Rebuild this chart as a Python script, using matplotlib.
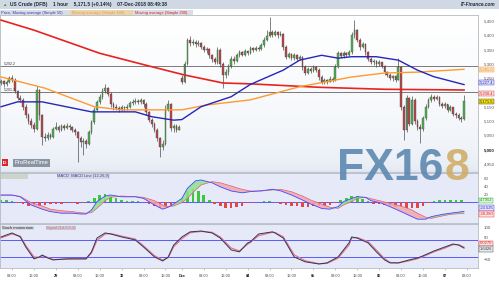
import numpy as np
import matplotlib
matplotlib.use("Agg")
import matplotlib.pyplot as plt
from matplotlib.colors import LinearSegmentedColormap
from matplotlib.transforms import blended_transform_factory

plt.rcParams['font.family'] = ['Liberation Sans', 'DejaVu Sans']

# ---- hourly candles (US Crude, DFB) ----
first_open = 5232
gap_opens = {66: 5250}
closes = [5240, 5228, 5238, 5250, 5245, 5205, 5180, 5175, 5150, 5120,
          5100, 5085, 5072, 5208, 5120, 5045, 5040, 5052, 5045, 5072,
          5078, 5070, 5082, 5076, 5084, 5078, 5068, 5060, 5040, 5025,
          5030, 5020, 5060, 5095, 5140, 5165, 5185, 5205, 5215, 5195,
          5160, 5150, 5146, 5140, 5148, 5144, 5150, 5162, 5166, 5170,
          5165, 5172, 5160, 5130, 5105, 5090, 5070, 5040, 5010, 5020,
          5140, 5158, 5075, 5082, 5070, 5078, 5238, 5300, 5382, 5372,
          5378, 5370, 5374, 5360, 5348, 5352, 5330, 5318, 5306, 5350,
          5300, 5262, 5270, 5292, 5318, 5310, 5330, 5340, 5332, 5345,
          5338, 5355, 5350, 5356, 5352, 5365, 5385, 5398, 5410, 5402,
          5412, 5400, 5405, 5360, 5325, 5335, 5320, 5330, 5318, 5325,
          5290, 5268, 5282, 5276, 5290, 5280, 5255, 5235, 5242, 5238,
          5248, 5244, 5290, 5337, 5328, 5338, 5330, 5340, 5400, 5418,
          5385, 5360, 5368, 5340, 5318, 5305, 5310, 5298, 5305, 5292,
          5270, 5262, 5250, 5256, 5245, 5290, 5150, 5068, 5180, 5090,
          5175, 5100, 5080, 5072, 5110, 5150, 5172, 5185, 5178, 5184,
          5160, 5152, 5158, 5140, 5148, 5125, 5120, 5110, 5106, 5171.5]
highs = [5248, 5245, 5242, 5258, 5262, 5250, 5210, 5190, 5182, 5158,
         5128, 5110, 5095, 5222, 5212, 5125, 5058, 5060, 5058, 5080,
         5098, 5085, 5090, 5088, 5092, 5090, 5082, 5075, 5065, 5048,
         5040, 5038, 5068, 5105, 5150, 5175, 5196, 5215, 5228, 5220,
         5200, 5168, 5158, 5152, 5156, 5154, 5160, 5170, 5176, 5180,
         5176, 5180, 5176, 5165, 5135, 5112, 5095, 5075, 5045, 5032,
         5155, 5172, 5162, 5090, 5088, 5086, 5262, 5310, 5392, 5398,
         5388, 5384, 5382, 5378, 5366, 5360, 5356, 5335, 5325, 5360,
         5355, 5305, 5282, 5300, 5326, 5326, 5338, 5348, 5346, 5352,
         5350, 5362, 5360, 5362, 5362, 5372, 5395, 5420, 5464, 5418,
         5420, 5416, 5414, 5408, 5365, 5342, 5338, 5338, 5334, 5332,
         5328, 5295, 5290, 5288, 5296, 5294, 5284, 5260, 5250, 5248,
         5256, 5254, 5298, 5345, 5342, 5346, 5342, 5348, 5410, 5455,
         5422, 5390, 5376, 5372, 5345, 5324, 5318, 5314, 5312, 5308,
         5296, 5276, 5268, 5262, 5260, 5320, 5292, 5155, 5190, 5185,
         5186, 5180, 5108, 5088, 5118, 5160, 5180, 5194, 5192, 5190,
         5188, 5166, 5166, 5160, 5156, 5150, 5132, 5128, 5116, 5190]
lows = [5226, 5220, 5222, 5232, 5238, 5198, 5172, 5165, 5140, 5110,
        5088, 5075, 5062, 5068, 5105, 5016, 5030, 5035, 5038, 5042,
        5068, 5062, 5066, 5068, 5072, 5070, 5060, 5052, 4955, 5010,
        4980, 5005, 5015, 5055, 5090, 5135, 5158, 5178, 5198, 5186,
        5150, 5140, 5138, 5132, 5136, 5134, 5140, 5145, 5156, 5160,
        5158, 5160, 5150, 5120, 5095, 5078, 5060, 5030, 4975, 4998,
        5015, 5135, 5065, 5060, 5062, 5068, 5228, 5232, 5295, 5362,
        5365, 5360, 5362, 5352, 5340, 5338, 5322, 5308, 5298, 5300,
        5290, 5215, 5252, 5262, 5285, 5300, 5305, 5325, 5326, 5328,
        5330, 5334, 5340, 5344, 5344, 5348, 5360, 5380, 5395, 5395,
        5398, 5392, 5396, 5350, 5318, 5320, 5312, 5315, 5310, 5312,
        5280, 5260, 5266, 5268, 5272, 5272, 5245, 5228, 5230, 5228,
        5236, 5236, 5240, 5285, 5320, 5322, 5324, 5326, 5336, 5390,
        5375, 5350, 5355, 5330, 5310, 5298, 5296, 5290, 5292, 5286,
        5262, 5255, 5242, 5240, 5238, 5242, 5140, 5033, 5062, 5082,
        5085, 5090, 5070, 5023, 5065, 5105, 5145, 5165, 5170, 5172,
        5152, 5145, 5146, 5132, 5136, 5118, 5112, 5104, 5098, 5104]

# moving averages (sampled along the curves)
ma50_x = [0, 6, 15, 33, 49, 55, 63, 66, 73, 84, 91, 103, 109, 117, 123, 128,
          137, 145, 152, 158, 164, 169]
ma50 = [5150, 5167, 5167, 5132, 5132, 5115, 5103, 5105, 5150, 5185, 5228, 5278,
        5313, 5330, 5320, 5325, 5325, 5313, 5278, 5255, 5240, 5227.4]
ma100_x = [0, 16, 34, 44, 66, 75, 91, 109, 128, 140, 152, 164, 169]
ma100 = [5254, 5215, 5150, 5139, 5139, 5156, 5174, 5220, 5254, 5268, 5271,
         5278, 5281.0]
ma200_x = [0, 12, 36, 55, 67, 81, 91, 116, 140, 164, 169]
ma200 = [5453, 5418, 5337, 5290, 5261, 5233, 5230, 5218, 5211, 5209, 5208.4]
levels = [5292.2, 5201.3]

# MACD (12,26,9)
macd_x = [0, 4, 7, 11, 15, 18, 22, 26, 29, 31, 33, 35, 38, 40, 44, 49, 52, 56,
          59, 61, 63, 66, 68, 71, 73, 77, 80, 84, 88, 91, 95, 99, 102, 106, 110,
          113, 117, 120, 123, 125, 128, 130, 133, 135, 139, 142, 146, 150, 152,
          155, 157, 161, 164, 169]
macd = [17.5, 17.5, 13, -7.5, -18, -24, -28, -28, -30, -30,
        -20, 1, 15, 17.5, 13, 13, 9, -7.5, -18, -13,
        -5, 9, 34, 53, 55, 48, 38, 27.5, 23, 26,
        28, 31.7, 28, 17.5, 5, -5, -16, -18, -11.7, 1,
        9, 13.3, 11.7, 3.3, -3.3, -11.7, -24, -36.7, -43, -43,
        -36.7, -31, -28, -23.525]
signal = [17, 17, 14, -1.7, -10, -18, -21.7, -24, -26.7, -28,
          -26.7, -15.8, 3.3, 11.7, 15, 13.3, 11.7, 3.3, -7.5, -11.7,
          -10, -1.7, 9, 30, 42.5, 51, 48, 40, 31.7, 27.5,
          27.5, 30, 31.7, 25.8, 15, 5, -5, -13, -16, -7.5,
          0.8, 9, 11.7, 8.3, 1.7, -3.3, -10, -20, -28, -38,
          -41, -35, -30.8, -28.28]
hist_x = list(range(0, 170, 2))
hist = [4, 4, 3, -2, -6, -9, -10, -10, -8, -5,
        -4, -4, -3, -3, -4, -2, 3, 10, 17, 20,
        16, 10, 5, 3, 3, 2, 1, -4, -9, -14,
        -13, -7, -2, 10, 28, 33, 28, 18, 6, -5,
        -10, -14, -15, -12, -9, -3, -2, 1, 2, 3,
        1, -4, -7, -9, -11, -12, -12, -11, -10, -9,
        -7, -3, 4, 10, 15, 14, 8, 2, -4, -6,
        -8, -10, -12, -13, -14, -15, -15, -10, -3, 3,
        5, 5, 4, 4, 4.7952]

# Stochastic momentum
stoch_x = [0, 4, 7, 9, 12, 14, 15, 17, 19, 24, 28, 31, 33, 35, 38, 40, 44, 49,
           52, 56, 59, 61, 63, 66, 69, 73, 77, 80, 84, 87, 90, 91, 94, 99, 100,
           103, 107, 111, 116, 119, 123, 127, 128, 130, 134, 137, 140, 142, 145,
           149, 152, 154, 158, 162, 165, 167, 169]
stoch = [54, 73, 54, 7, -49, -40, -31, -45, -54, -49,
         -49, -49, -16, 49, 73, 68, 54, 40, 7, -40,
         -59, -40, 16, 54, 78, 82, 73, 49, -7, -16,
         26, 31, 68, 78, 73, 49, -40, -63, -73, -68,
         -40, 26, 54, 49, 26, -16, -54, -68, -68, -54,
         -45, -35, -12, 7, 21, 16, 1.6426]
stoch_sig = [50, 68, 58, 14, -40, -42, -34, -42, -52, -50,
             -49, -49, -22, 38, 68, 70, 58, 44, 12, -34,
             -55, -44, 8, 46, 74, 80, 76, 54, 2, -12,
             20, 28, 60, 76, 75, 55, -30, -58, -72, -70,
             -46, 16, 50, 51, 32, -8, -48, -66, -68, -58,
             -48, -38, -16, 2, 18, 18, 6.027]

tick_pos = [4, 12, 20, 28, 36, 44, 52, 60, 66, 74, 82, 90, 98, 106, 114, 122,
            130, 138, 146, 154, 162, 170]
tick_labels = ['08:00', '16:00', '29', '08:00', '16:00', '30', '08:00', '16:00',
               'Dec', '08:00', '16:00', '04', '08:00', '16:00', '05', '08:00',
               '16:00', '06', '08:00', '16:00', '07', '08:00']
price_ticks = [4950, 5000, 5050, 5100, 5150, 5250, 5300, 5350, 5400, 5450]

# ---------------------------------------------------------------
W, H = 499, 281
PW = 478
fig = plt.figure(figsize=(W / 100, H / 100), dpi=100)
fig.patch.set_facecolor('white')


def box(x0, y0, x1, y1):
    return [x0 / W, 1 - y1 / H, (x1 - x0) / W, (y1 - y0) / H]


ax = fig.add_axes(box(0, 15, PW, 172))
axm = fig.add_axes(box(0, 173, PW, 223))
axs = fig.add_axes(box(0, 224, PW, 268))
for a in (ax, axm, axs):
    a.set_xlim(-0.4, 174.1)
    for s in a.spines.values():
        s.set_color('#b4b9c2')
        s.set_linewidth(0.6)
    a.yaxis.tick_right()
    a.tick_params(axis='y', length=0, pad=4, labelsize=3.2, colors='#555555')
    a.tick_params(axis='x', length=0, labelbottom=False)

# header
fig.patches.append(plt.Rectangle((0, 1 - 9 / H), 1, 9 / H, transform=fig.transFigure,
                                 fc='#cfd8e3', ec='none', zorder=0))
fig.text(2 / W, 1 - 4.8 / H, '\u25b2', color='#2fa02f', fontsize=3.2, va='center')
fig.text(10 / W, 1 - 4.8 / H,
         'US Crude (DFB)    1 hour    5,171.5 (+0.14%)    07-Dec-2018 08:49:38',
         fontsize=3.5, color='#1c2a3a', va='center', weight='bold')
fig.text(496 / W, 1 - 4.8 / H, 'IT-Finance.com', fontsize=3.4, color='#1c2a3a',
         va='center', ha='right', style='italic', weight='bold')
fig.patches.append(plt.Rectangle((0, 1 - 15 / H), 193 / W, 5 / H, transform=fig.transFigure,
                                 fc='#d9dde4', ec='none', zorder=0))
fig.patches.append(plt.Rectangle((70 / W, 1 - 15 / H), 63 / W, 5 / H, transform=fig.transFigure,
                                 fc='#ecd3a8', ec='none', zorder=0))
fig.text(1 / W, 1 - 12.6 / H, 'Price, Moving average (Simple 50)', fontsize=2.9,
         color='#3a3ab0', va='center')
fig.text(72 / W, 1 - 12.6 / H, 'Moving average (Simple 100)', fontsize=2.9,
         color='#e0a050', va='center')
fig.text(135 / W, 1 - 12.6 / H, 'Moving average (Simple 200)', fontsize=2.9,
         color='#d82020', va='center')

# ---- price panel ----
ax.set_ylim(4921.5, 5471)
grad = LinearSegmentedColormap.from_list('bg', ['#dfe6f1', '#ffffff'])
ax.imshow(np.linspace(0, 1, 100)[:, None] ** 0.35, origin='lower', aspect='auto',
          cmap=grad, extent=(0, 1, 0, 1), transform=ax.transAxes, zorder=0)

n = len(closes)
xs = np.arange(n)
opens = [first_open] + closes[:-1]
for k, v in gap_opens.items():
    opens[k] = v
opens = np.array(opens, dtype=float)
cl = np.array(closes, dtype=float)
up = cl >= opens
body_col = np.where(up, '#4fb34f', '#b94a4c')
heights = np.where(np.abs(cl - opens) < 1, 1.5, cl - opens)

for lv in levels:
    ax.axhline(lv, color='#7a7a7a', lw=0.7, zorder=1)
    ax.text(1, lv + 3, f'{lv:,.1f}', fontsize=2.6, color='#333333', va='bottom', zorder=6)

ax.vlines(xs, lows, highs, color='#3c3c3c', lw=0.45, zorder=2)
ax.bar(xs, heights, bottom=opens, width=0.62, color=body_col,
       edgecolor='#3c3c3c', linewidth=0.25, zorder=3)

ax.plot(ma200_x, ma200, color='#e8231f', lw=1.2, zorder=4)
ax.plot(ma100_x, ma100, color='#ff9a2e', lw=1.0, zorder=4)
ax.plot(ma50_x, ma50, color='#2626b8', lw=1.0, zorder=4)

# the 5,200 label sits under the value tags, as in the original
ax.set_yticks(price_ticks)
ax.set_yticklabels([f'{v:,}' for v in price_ticks])
for t in ax.get_yticklabels():
    if t.get_text() == '5,000':
        t.set_fontweight('bold')
        t.set_color('#222222')

tr = blended_transform_factory(ax.transAxes, ax.transData)
right_tags = [(ma100[-1], f'{ma100[-1]:,.1f}', '#fde6c8', '#f08a20'),
              (ma50[-1] + 8, f'{ma50[-1]:,.1f}', '#e2e3ff', '#2626b8'),
              (ma200[-1] - 12, f'{ma200[-1]:,.1f}', '#ffe2e2', '#d82020'),
              (closes[-1] - 2, f'{closes[-1]:,.1f}', '#f3e100', '#333333')]
for yv, txt, fc, tc in right_tags:
    ax.text(1.004, yv, txt, transform=tr, fontsize=3.0, color=tc, va='center',
            bbox=dict(boxstyle='square,pad=0.15', fc=fc, ec=tc, lw=0.3), zorder=7)

# ProRealTime badge
ax.text(0.006, 0.06, 'IG', transform=ax.transAxes, fontsize=3.2, color='white',
        weight='bold', va='center',
        bbox=dict(boxstyle='square,pad=0.25', fc='#d8262e', ec='none'), zorder=7)
ax.text(0.03, 0.06, 'ProRealTime', transform=ax.transAxes, fontsize=4.2, color='white',
        va='center', bbox=dict(boxstyle='square,pad=0.25', fc='#8b94a3', ec='none'),
        zorder=7)

# watermark
wm = fig.text(337 / W, 1 - 180 / H, 'FX16', fontsize=32, weight='bold', color='#5d88b0',
              alpha=0.9, va='baseline', zorder=10)
fig.canvas.draw()
bb = wm.get_window_extent(renderer=fig.canvas.get_renderer())
fig.text(bb.x1 / W + 0.002, 1 - 180 / H, '8', fontsize=32, weight='bold',
         color='#cfae68', alpha=0.9, va='baseline', zorder=10)

# ---- MACD panel ----
axm.set_facecolor('#e6e9f7')
axm.set_ylim(-52.5, 72.5)
axm.axhline(0, color='#5a5aff', lw=0.7, zorder=1)
hc = ['#3cc83c' if v > 0 else '#e04848' for v in hist]
axm.bar(hist_x, hist, width=0.95, color=hc, zorder=2)
mx = np.array(macd_x)
mv = np.array(macd)
sv = np.array(signal)
axm.fill_between(mx, mv, sv, where=mv >= sv, interpolate=True, color='#8fe08f',
                 alpha=0.85, zorder=3, lw=0)
axm.fill_between(mx, mv, sv, where=mv < sv, interpolate=True, color='#f0a6ae',
                 alpha=0.85, zorder=3, lw=0)
axm.plot(mx, sv, color='#e0606e', lw=0.5, zorder=4)
axm.plot(mx, mv, color='#4646ff', lw=0.6, zorder=4)
axm.set_yticks([60, 40, 20])
axm.text(0.002, 0.975, '                        ', transform=axm.transAxes, fontsize=3,
         va='top', bbox=dict(boxstyle='square,pad=0.1', fc='#c9d6c9', ec='none'))
axm.text(0.12, 0.975, 'MACD  MACD Line (12,26,9)', transform=axm.transAxes,
         fontsize=2.9, color='#3a3ab0', va='top',
         bbox=dict(boxstyle='square,pad=0.1', fc='#d5d8e0', ec='none'))
trm = blended_transform_factory(axm.transAxes, axm.transData)
for yv, txt, fc, tc in [(4, f'{hist[-1]:.4f}', '#d8f5d8', '#2a9a2a'),
                        (-15, f'{macd[-1]:.3f}', '#e2e3ff', '#2626b8'),
                        (-30, f'{signal[-1]:.3f}', '#ffe2e2', '#d82020')]:
    axm.text(1.004, yv, txt, transform=trm, fontsize=3.0, color=tc, va='center',
             bbox=dict(boxstyle='square,pad=0.2', fc=fc, ec=tc, lw=0.3), zorder=7)

# ---- Stochastic momentum panel ----
axs.set_facecolor('#e6e9f7')
axs.set_ylim(-92, 115)
axs.axhline(40, color='#5a5aff', lw=0.7)
axs.axhline(-40, color='#5a5aff', lw=0.7)
axs.plot(stoch_x, stoch_sig, color='#e07888', lw=0.9, zorder=3)
axs.plot(stoch_x, stoch, color='#35355a', lw=0.7, zorder=4)
axs.set_yticks([100, 50, -50])
axs.text(0.004, 0.955, 'Stoch momentum', transform=axs.transAxes, fontsize=2.9,
         color='#222222', va='top',
         bbox=dict(boxstyle='square,pad=0.1', fc='#d5d8e0', ec='none'))
axs.text(0.097, 0.955, 'Signal (14,3,5,3)', transform=axs.transAxes, fontsize=2.9,
         color='#e07080', va='top',
         bbox=dict(boxstyle='square,pad=0.1', fc='#c8ccd6', ec='none'))
trs = blended_transform_factory(axs.transAxes, axs.transData)
for yv, txt, fc, tc in [(24, f'{stoch_sig[-1]:.4f}', '#ffe2e2', '#d82020'),
                        (-2, f'{stoch[-1]:.4f}', '#e9e9f2', '#333333')]:
    axs.text(1.004, yv, txt, transform=trs, fontsize=3.0, color=tc, va='center',
             bbox=dict(boxstyle='square,pad=0.2', fc=fc, ec=tc, lw=0.3), zorder=7)

axs.set_xticks(tick_pos)
axs.set_xticklabels(tick_labels)
axs.tick_params(axis='x', labelbottom=True, length=1.5, width=0.4, colors='#9aa0aa',
                labelsize=2.8, labelcolor='#444444', pad=2.5)
for t in axs.get_xticklabels():
    if ':' not in t.get_text():
        t.set_fontweight('bold')
        t.set_color('#222222')

fig.savefig('out.png', dpi=100)
